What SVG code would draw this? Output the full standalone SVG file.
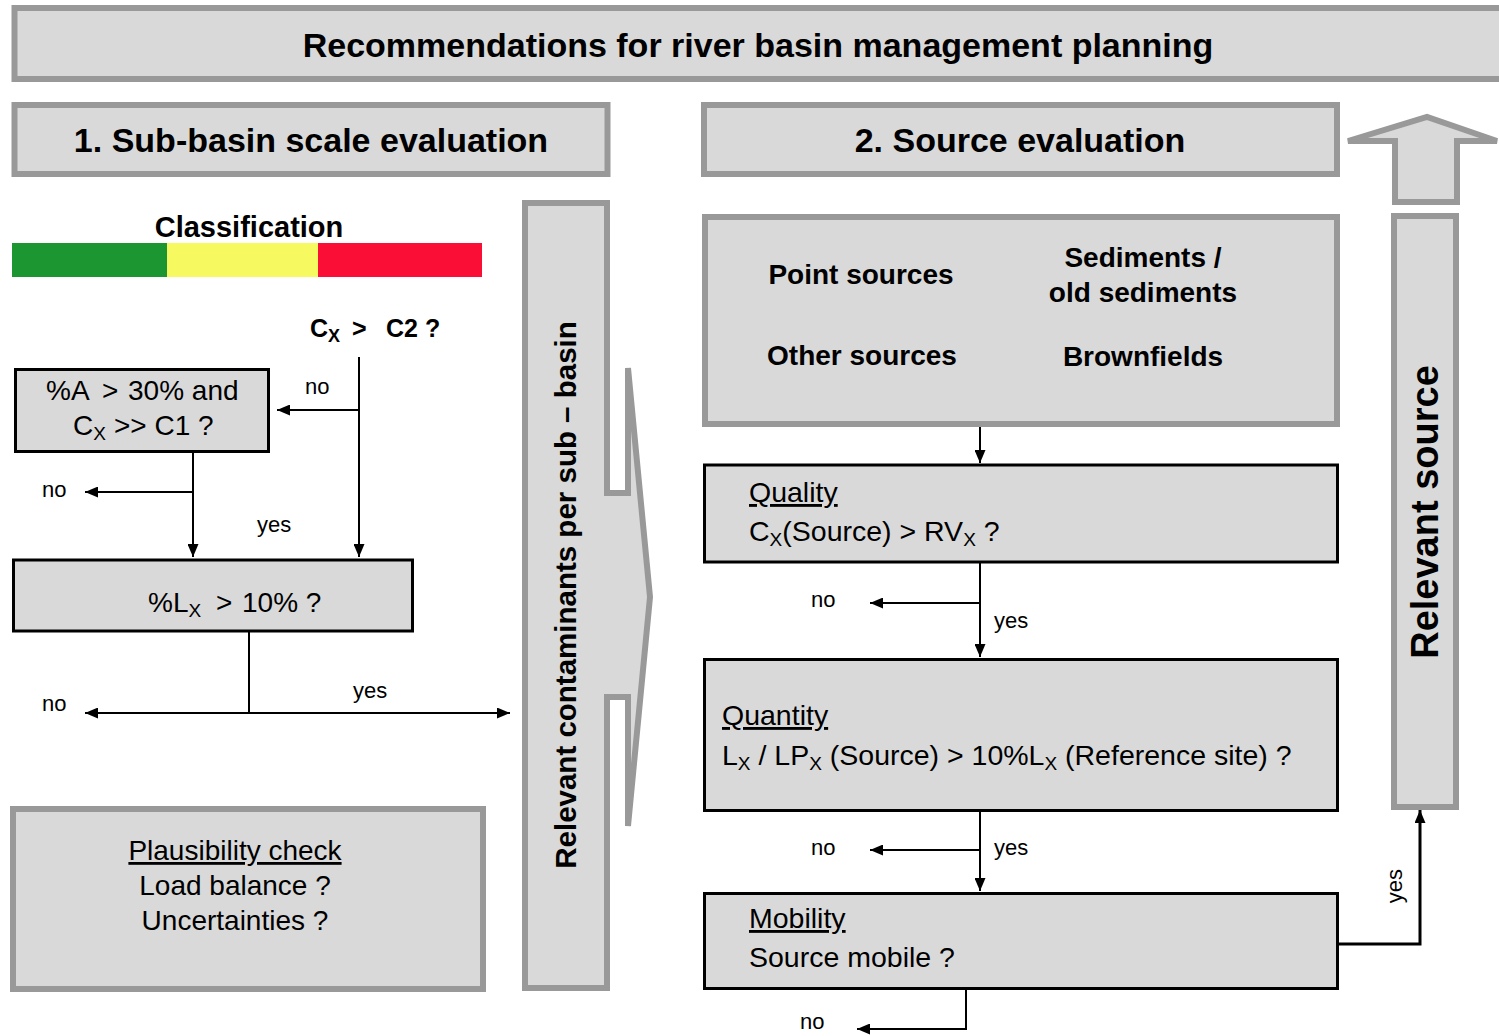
<svg xmlns="http://www.w3.org/2000/svg" width="1499" height="1036" viewBox="0 0 1499 1036">
<defs>
<style>
text{font-family:"Liberation Sans",Arial,sans-serif;fill:#000}
.b34{font-size:34px;font-weight:bold}
.b27{font-size:28px;font-weight:bold}
.r28{font-size:28px}
.r285{font-size:28.5px}
.lab{font-size:22px}
.sub{font-size:19px}
.ul{text-decoration:underline}
.gbox{fill:#d9d9d9;stroke:#999999;stroke-width:6}
.kbox{fill:#d9d9d9;stroke:#000;stroke-width:3}
.con{fill:none;stroke:#000;stroke-width:2}
</style>
<marker id="ah" viewBox="0 0 13 11" refX="13" refY="5.5" markerWidth="13" markerHeight="11" markerUnits="userSpaceOnUse" orient="auto">
<path d="M0,0 L13,5.5 L0,11 z" fill="#000"/>
</marker>
</defs>
<rect width="1499" height="1036" fill="#fff"/>

<g id="title">
<rect class="gbox" x="14.5" y="8" width="1490" height="71"/>
<text class="b34" x="758" y="57" text-anchor="middle">Recommendations for river basin management planning</text>
</g>

<g id="sub-basin-header">
<rect class="gbox" x="14.5" y="105" width="593" height="69"/>
<text class="b34" x="311" y="152" text-anchor="middle">1. Sub-basin scale evaluation</text>
</g>

<g id="source-header">
<rect class="gbox" x="704" y="105" width="633" height="69"/>
<text class="b34" x="1020" y="152" text-anchor="middle">2. Source evaluation</text>
</g>

<g id="classification">
<text x="249" y="237" text-anchor="middle" style="font-size:29px;font-weight:bold">Classification</text>
<rect x="12" y="243" width="155" height="34" fill="#1b9631"/>
<rect x="167" y="243" width="151" height="34" fill="#f7f960"/>
<rect x="318" y="243" width="164" height="34" fill="#fb0e35"/>
</g>

<g id="c2-question">
<text style="font-size:25px;font-weight:bold" y="337"><tspan x="310">C</tspan><tspan style="font-size:18px" dy="5">X</tspan><tspan x="352" dy="-5">&gt;</tspan><tspan x="386">C2 ?</tspan></text>
</g>

<g id="box-a30">
<rect class="kbox" x="15.5" y="369.5" width="253" height="82"/>
<text class="r28" y="400"><tspan x="46">%A</tspan><tspan x="102">&gt;</tspan><tspan x="128">30% and</tspan></text>
<text class="r28" y="435"><tspan x="73">C</tspan><tspan class="sub" dy="5">X</tspan><tspan x="114" dy="-5">&gt;&gt; C1 ?</tspan></text>
</g>

<g id="box-lx">
<rect class="kbox" x="13.5" y="560" width="399" height="71"/>
<text class="r28" y="612"><tspan x="148">%L</tspan><tspan class="sub" dy="5">X</tspan><tspan x="216" dy="-5">&gt;</tspan><tspan x="242">10% ?</tspan></text>
</g>

<g id="plausibility">
<rect class="gbox" x="13" y="809" width="470" height="180"/>
<text class="r28 ul" x="235" y="860" text-anchor="middle">Plausibility check</text>
<text class="r28" x="235" y="895" text-anchor="middle">Load balance ?</text>
<text class="r28" x="235" y="930" text-anchor="middle">Uncertainties ?</text>
</g>

<g id="relevant-contaminants">
<polygon class="gbox" points="525,203 607,203 607,493 628,493 628,368 650,597 628,826 628,697 607,697 607,988 525,988"/>
<text x="0" y="0" transform="translate(576,595) rotate(-90)" text-anchor="middle" style="font-size:29.5px;font-weight:bold">Relevant contaminants per sub – basin</text>
</g>

<g id="sources">
<rect class="gbox" x="705" y="217" width="632" height="207"/>
<text class="b27" x="861" y="284" text-anchor="middle">Point sources</text>
<text class="b27" x="1143" y="267" text-anchor="middle">Sediments /</text>
<text class="b27" x="1143" y="302" text-anchor="middle">old sediments</text>
<text class="b27" x="862" y="365" text-anchor="middle">Other sources</text>
<text class="b27" x="1143" y="366" text-anchor="middle">Brownfields</text>
</g>

<g id="quality">
<rect class="kbox" x="704.5" y="465" width="633" height="97"/>
<text class="r285 ul" x="749" y="502">Quality</text>
<text class="r285" x="749" y="541">C<tspan class="sub" dy="5">X</tspan><tspan dy="-5">(Source) &gt; RV</tspan><tspan class="sub" dy="5">X</tspan><tspan dy="-5"> ?</tspan></text>
</g>

<g id="quantity">
<rect class="kbox" x="704.5" y="659.5" width="633" height="151"/>
<text class="r285 ul" x="722" y="725">Quantity</text>
<text class="r285" x="722" y="765">L<tspan class="sub" dy="5">X</tspan><tspan dy="-5"> / LP</tspan><tspan class="sub" dy="5">X</tspan><tspan dy="-5"> (Source) &gt; 10%L</tspan><tspan class="sub" dy="5">X</tspan><tspan dy="-5"> (Reference site) ?</tspan></text>
</g>

<g id="mobility">
<rect class="kbox" x="704.5" y="893.5" width="633" height="95"/>
<text class="r285 ul" x="749" y="928">Mobility</text>
<text class="r285" x="749" y="967">Source mobile ?</text>
</g>

<g id="relevant-source">
<polygon class="gbox" points="1395,202 1395,141 1348,141 1427,117 1497,141 1457,141 1457,202"/>
<rect class="gbox" x="1394" y="216" width="62" height="591"/>
<text x="0" y="0" transform="translate(1438,512) rotate(-90)" text-anchor="middle" style="font-size:38px;font-weight:bold">Relevant source</text>
</g>

<g id="connectors">
<path class="con" d="M359,357 V557" marker-end="url(#ah)"/>
<path class="con" d="M359,410 H277" marker-end="url(#ah)"/>
<path class="con" d="M193,452 V557" marker-end="url(#ah)"/>
<path class="con" d="M193,492 H85" marker-end="url(#ah)"/>
<path class="con" d="M249,632 V713"/>
<path class="con" d="M249,713 H85" marker-end="url(#ah)"/>
<path class="con" d="M249,713 H510" marker-end="url(#ah)"/>
<path class="con" d="M980,427 V463" marker-end="url(#ah)"/>
<path class="con" d="M980,563 V657" marker-end="url(#ah)"/>
<path class="con" d="M980,603 H870" marker-end="url(#ah)"/>
<path class="con" d="M980,812 V891" marker-end="url(#ah)"/>
<path class="con" d="M980,850 H870" marker-end="url(#ah)"/>
<path class="con" d="M966,990 V1029 H857" marker-end="url(#ah)"/>
<path class="con" d="M1339,944 H1420 V810" style="stroke-width:3" marker-end="url(#ah)"/>
<text class="lab" x="305" y="394">no</text>
<text class="lab" x="42" y="497">no</text>
<text class="lab" x="257" y="532">yes</text>
<text class="lab" x="42" y="711">no</text>
<text class="lab" x="353" y="698">yes</text>
<text class="lab" x="811" y="607">no</text>
<text class="lab" x="994" y="628">yes</text>
<text class="lab" x="811" y="855">no</text>
<text class="lab" x="994" y="855">yes</text>
<text class="lab" x="800" y="1029">no</text>
<text class="lab" x="0" y="0" transform="translate(1402,886) rotate(-90)" text-anchor="middle">yes</text>
</g>
</svg>
